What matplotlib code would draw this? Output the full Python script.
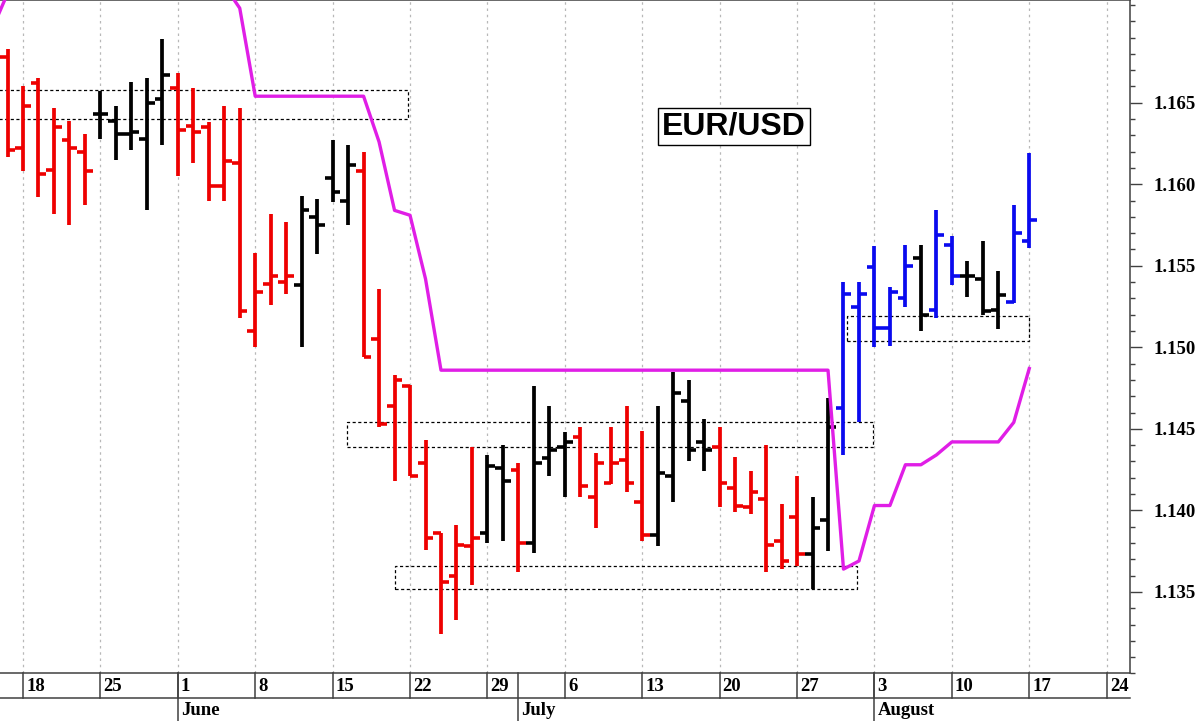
import numpy as np
import matplotlib.pyplot as plt
from matplotlib.patches import Rectangle
from matplotlib.ticker import MultipleLocator
from matplotlib.transforms import blended_transform_factory

# trading-day index, 0 = Friday 18 May
bar_x = list(range(-1, 66))
opens = [1.1678, 1.1622, 1.1662, 1.1609, 1.1627, 1.1620,
         1.1643, 1.1639, 1.1631, 1.1628, 1.1652,
         1.1659, 1.1636, 1.1635, 1.1599, 1.1613, 1.1510, 1.1539, 1.1540,
         1.1538, 1.1580, 1.1604, 1.1590,
         1.1608, 1.1505, 1.1464, 1.1476, 1.1429, 1.1386, 1.1360, 1.1378,
         1.1386, 1.1426, 1.1425, 1.1380, 1.1432, 1.1439,
         1.1445, 1.1408, 1.1417, 1.1431, 1.1405,
         1.1385, 1.1421, 1.1467, 1.1442,
         1.1439, 1.1414, 1.1402, 1.1407, 1.1381, 1.1396,
         1.1373, 1.1394,
         1.1463, 1.1525, 1.1549, 1.1512, 1.1530,
         1.1555, 1.1523, 1.1563, 1.1544, 1.1542, 1.1523, 1.1528, 1.1565]
highs = [1.1683, 1.1660, 1.1665, 1.1647, 1.1639, 1.1631,
         1.1657, 1.1648, 1.1663, 1.1665, 1.1689,
         1.1668, 1.1659, 1.1638, 1.1648, 1.1647, 1.1558, 1.1582, 1.1577,
         1.1593, 1.1591, 1.1627, 1.1624,
         1.1620, 1.1536, 1.1483, 1.1477, 1.1443, 1.1386, 1.1391, 1.1439,
         1.1434, 1.1440, 1.1429, 1.1476, 1.1464, 1.1448,
         1.1451, 1.1435, 1.1451, 1.1464, 1.1449,
         1.1464, 1.1485, 1.1480, 1.1456,
         1.1451, 1.1433, 1.1424, 1.1440, 1.1404, 1.1421,
         1.1408, 1.1469,
         1.1540, 1.1540, 1.1562, 1.1537, 1.1563,
         1.1563, 1.1584, 1.1568, 1.1553, 1.1565, 1.1547, 1.1587, 1.1619]
lows = [1.1617, 1.1608, 1.1592, 1.1582, 1.1575, 1.1587,
        1.1628, 1.1615, 1.1621, 1.1584, 1.1624,
        1.1605, 1.1613, 1.1590, 1.1590, 1.1518, 1.1500, 1.1526, 1.1533,
        1.1500, 1.1557, 1.1589, 1.1575,
        1.1494, 1.1451, 1.1418, 1.1421, 1.1376, 1.1324, 1.1333, 1.1354,
        1.1380, 1.1381, 1.1362, 1.1374, 1.1421, 1.1408,
        1.1408, 1.1389, 1.1416, 1.1411, 1.1381,
        1.1378, 1.1405, 1.1430, 1.1424,
        1.1402, 1.1399, 1.1398, 1.1362, 1.1364, 1.1366,
        1.1352, 1.1375,
        1.1434, 1.1454, 1.1500, 1.1501, 1.1525,
        1.1510, 1.1518, 1.1538, 1.1531, 1.1520, 1.1511, 1.1527, 1.1561]
closes = [1.1621, 1.1648, 1.1606, 1.1635, 1.1622, 1.1608,
          1.1643, 1.1631, 1.1632, 1.1650, 1.1667,
          1.1633, 1.1632, 1.1599, 1.1614, 1.1522, 1.1534, 1.1544, 1.1544,
          1.1584, 1.1575, 1.1595, 1.1612,
          1.1494, 1.1453, 1.1480, 1.1421, 1.1383, 1.1356, 1.1379, 1.1383,
          1.1427, 1.1418, 1.1380, 1.1429, 1.1437, 1.1442,
          1.1415, 1.1429, 1.1429, 1.1417, 1.1385,
          1.1423, 1.1472, 1.1437, 1.1437,
          1.1417, 1.1403, 1.1411, 1.1379, 1.1369, 1.1373,
          1.1389, 1.1451,
          1.1533, 1.1533, 1.1512, 1.1534, 1.1550,
          1.1520, 1.1569, 1.1544, 1.1544, 1.1522, 1.1532, 1.1570, 1.1578]
bar_colors = ("rrrrrr" "kkkkk" "rrrrrrrr" "kkkk" "rrrrrrrr" "kk" "r" "kkk"
              "rrrrr" "kkkk" "rrrrrr" "kk" "bbbbb" "k" "bb" "kkk" "bb")

# magenta stop line
stop_x = list(range(-2, 66))
stop_y = [1.1695, 1.1717,
          1.1740, 1.1740, 1.1740, 1.1740, 1.1740, 1.1740, 1.1740,
          1.1740, 1.1740, 1.1740, 1.1740, 1.1740, 1.1740,
          1.1722, 1.1708,
          1.1654, 1.1654, 1.1654, 1.1654, 1.1654, 1.1654, 1.1654, 1.1654,
          1.1626, 1.1584, 1.1581, 1.1542,
          1.1486, 1.1486, 1.1486, 1.1486, 1.1486, 1.1486, 1.1486, 1.1486,
          1.1486, 1.1486, 1.1486, 1.1486, 1.1486, 1.1486, 1.1486, 1.1486,
          1.1486, 1.1486, 1.1486, 1.1486, 1.1486, 1.1486, 1.1486, 1.1486,
          1.1486, 1.1486,
          1.1364, 1.1369, 1.1403, 1.1403, 1.1428, 1.1428, 1.1434,
          1.1442, 1.1442, 1.1442, 1.1442, 1.1454, 1.1487]

# dotted boxes: (x from, x to, price low, price high)
zones = [(-3, 24.9, 1.1640, 1.1658),
         (20.9, 54.9, 1.1439, 1.1454),
         (24.0, 53.9, 1.1352, 1.1366),
         (53.2, 65.0, 1.1504, 1.1519)]

week_pos = [0, 5, 10, 15, 20, 25, 30, 35, 40, 45, 50, 55, 60, 65, 70]
week_labels = ['18', '25', '1', '8', '15', '22', '29', '6', '13', '20',
               '27', '3', '10', '17', '24']
month_pos = [10, 32, 55]
month_names = ['June', 'July', 'August']

colmap = {'r': '#ee0000', 'k': '#000000', 'b': '#0a0aee'}
axcol = '#404040'
serif = dict(family='Liberation Serif', weight='bold', size=13.5)

fig = plt.figure(figsize=(12, 7.21), dpi=100)
ax = fig.add_axes([0, 0.0659, 0.9417, 0.9341])

cols = [colmap[c] for c in bar_colors]
x = np.array(bar_x)
tl = 0.5
ax.vlines(x, lows, highs, colors=cols, lw=2.7, zorder=3)
ax.hlines(opens, x - tl, x, colors=cols, lw=2.6, zorder=3)
ax.hlines(closes, x, x + tl, colors=cols, lw=2.6, zorder=3)

ax.plot(stop_x, stop_y, color='#e01ee6', lw=2.4, zorder=4)

for x0, x1, y0, y1 in zones:
    ax.add_patch(Rectangle((x0, y0), x1 - x0, y1 - y0, fill=False,
                           ec='black', lw=0.9, ls=(0, (2.5, 2)), zorder=2))

ax.text(0.6496, 0.8122, 'EUR/USD', transform=ax.transAxes, ha='center',
        va='center', family='Liberation Sans', weight='bold', fontsize=23,
        bbox=dict(boxstyle='square,pad=0.12', fc='white', ec='black', lw=1),
        zorder=5)

ax.set_xlim(-1.486, 71.51)
ax.set_ylim(1.130, 1.1713)

ax.set_xticks(week_pos)
ax.tick_params(axis='x', length=0, labelbottom=False)
ax.grid(axis='x', color='#b8b8b8', lw=0.9, ls=(0, (2, 3)))

ax.yaxis.tick_right()
ax.set_yticks([1.135, 1.140, 1.145, 1.150, 1.155, 1.160, 1.165])
ax.set_yticklabels(['%.3f' % v for v in ax.get_yticks()], fontdict=serif)
ax.yaxis.set_minor_locator(MultipleLocator(0.001))
ax.tick_params(axis='y', which='major', length=8.6, width=1, color=axcol, pad=8)
ax.tick_params(axis='y', which='minor', length=3.6, width=1, color=axcol)

ax.spines['left'].set_visible(False)
for s in ['top', 'right', 'bottom']:
    ax.spines[s].set_color(axcol)
    ax.spines[s].set_linewidth(1.1)

# date strip under the plot
trans = blended_transform_factory(ax.transData, ax.transAxes)
box_bottom = -0.0364
fig_bottom = -0.0705
ax.plot([0, 1], [box_bottom, box_bottom], transform=ax.transAxes,
        color=axcol, lw=1.1, clip_on=False)
for p, lbl in zip(week_pos, week_labels):
    ax.plot([p, p], [0, box_bottom], transform=trans, color=axcol, lw=1.1,
            clip_on=False)
    ax.text(p + 0.2, -0.0186, lbl, transform=trans, ha='left', va='center',
            fontdict=serif)
for p, name in zip(month_pos, month_names):
    ax.plot([p, p], [0, fig_bottom], transform=trans, color=axcol, lw=1.1,
            clip_on=False)
    ax.text(p + 0.2, -0.0555, name, transform=trans, ha='left', va='center',
            fontdict=serif)

fig.savefig('out.png', dpi=100)
